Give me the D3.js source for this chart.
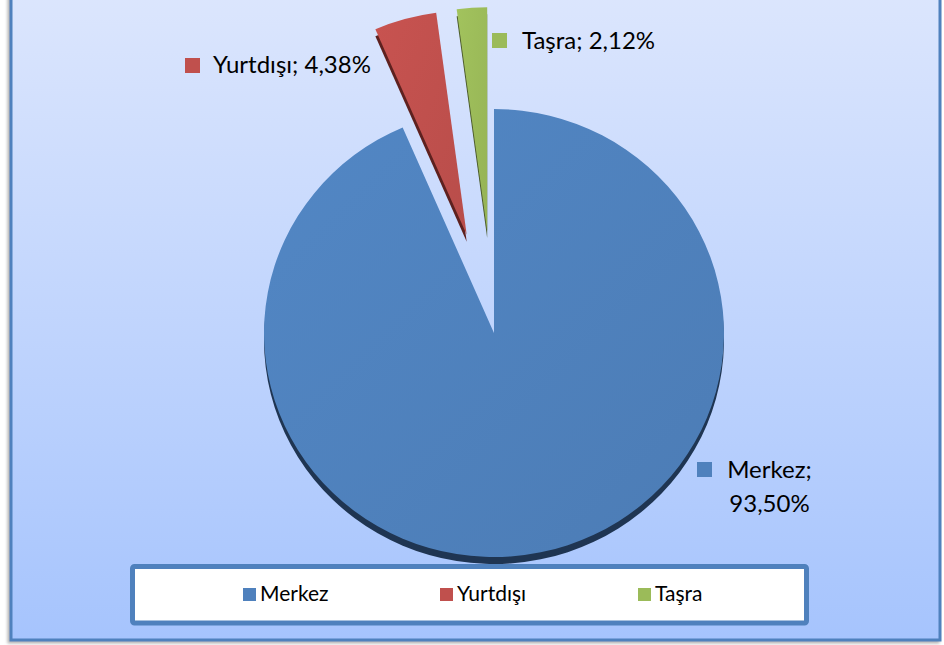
<!DOCTYPE html>
<html>
<head>
<meta charset="utf-8">
<script src="https://cdn.jsdelivr.net/npm/d3@7/dist/d3.min.js"></script>
<style>
html,body{margin:0;padding:0;background:#fff;}
svg{display:block;}
text{font-family:"Lato","Noto Sans",sans-serif;fill:#000;}
</style>
</head>
<body>
<svg id="chart" width="944" height="645"></svg>
<script>
// ---- data ----
const categories = ["Merkez", "Yurtdışı", "Taşra"];
const values = [93.50, 4.38, 2.12];
const exploded = [false, true, true];
const colors = ["#4f81bd", "#c0504d", "#9bbb59"];
const sideColors = ["#1f3552", "#5e211f", "#4a5a2a"];

// ---- layout ----
const W = 944, H = 645;
const cx = 494, cy = 333, rx = 230, ry = 224, depth = 7, explode = 102;

const svg = d3.select("#chart");
const defs = svg.append("defs");

const bg = defs.append("linearGradient").attr("id","bg").attr("x1",0).attr("y1",0).attr("x2",0).attr("y2",1);
bg.append("stop").attr("offset","0%").attr("stop-color","#dce6fd");
bg.append("stop").attr("offset","100%").attr("stop-color","#a6c4fd");

const sh = defs.append("filter").attr("id","shadow").attr("x","-5%").attr("y","-5%").attr("width","110%").attr("height","110%");
sh.append("feDropShadow").attr("dx",-2).attr("dy",2).attr("stdDeviation",1.5).attr("flood-color","#808080").attr("flood-opacity",0.6);

colors.forEach((c,i)=>{
  const g = defs.append("linearGradient").attr("id","g"+i).attr("x1",0).attr("y1",0).attr("x2",1).attr("y2",1);
  g.append("stop").attr("offset","0%").attr("stop-color", d3.color(c).brighter(0.12));
  g.append("stop").attr("offset","100%").attr("stop-color", d3.color(c).darker(0.12));
});

// frame
svg.append("rect").attr("x",11).attr("y",-10).attr("width",929).attr("height",650)
  .attr("fill","url(#bg)").attr("stroke","#4f81bd").attr("stroke-width",3)
  .attr("filter","url(#shadow)");

// pie
const pie = d3.pie().sort(null).value(d=>d.v).startAngle(0).endAngle(2*Math.PI);
const data = categories.map((c,i)=>({c, v:values[i], i}));
const arcs = pie(data);
const arc = d3.arc().innerRadius(0).outerRadius(rx);
const sy = ry/rx;

function offset(a){
  if(!exploded[a.data.i]) return [0,0];
  const m = (a.startAngle + a.endAngle)/2;
  return [explode*Math.sin(m), -explode*Math.cos(m)];
}

const sides = svg.append("g");
const tops = svg.append("g");
arcs.forEach(a=>{
  const [dx,dy] = offset(a);
  sides.append("path").attr("d", arc(a))
    .attr("transform", `translate(${cx+dx},${cy+dy+depth}) scale(1,${sy})`)
    .attr("fill", sideColors[a.data.i]);
});
arcs.forEach(a=>{
  const [dx,dy] = offset(a);
  tops.append("path").attr("d", arc(a))
    .attr("transform", `translate(${cx+dx},${cy+dy}) scale(1,${sy})`)
    .attr("fill", `url(#g${a.data.i})`);
});

// data labels
const fmt = v => d3.format(".2f")(v).replace(".", ",") + "%";
const labelPos = [
  {sx:697, sy:462, lines:true, tx:769.5, ty:478},
  {sx:185, sy:58, tx:213, ty:73},
  {sx:492, sy:33, tx:522, ty:49}
];
labelPos.forEach((p,i)=>{
  svg.append("rect").attr("x",p.sx).attr("y",p.sy).attr("width",15).attr("height",15).attr("fill",colors[i]);
  if(p.lines){
    const t = svg.append("text").attr("x",p.tx).attr("y",p.ty).attr("text-anchor","middle").style("font-size","24px");
    t.append("tspan").attr("x",p.tx).text(categories[i]+";");
    t.append("tspan").attr("x",p.tx).attr("dy",34).text(fmt(values[i]));
  } else {
    svg.append("text").attr("x",p.tx).attr("y",p.ty).style("font-size","24px").text(categories[i]+"; "+fmt(values[i]));
  }
});

// legend
svg.append("rect").attr("x",132.5).attr("y",566.5).attr("width",674).attr("height",56.5)
  .attr("rx",2).attr("fill","#fff").attr("stroke","#4f81bd").attr("stroke-width",5);
const legX = [243, 440, 638];
categories.forEach((c,i)=>{
  svg.append("rect").attr("x",legX[i]).attr("y",588).attr("width",13).attr("height",13).attr("fill",colors[i]);
  svg.append("text").attr("x",legX[i]+17).attr("y",601).style("font-size","21px").text(c);
});
</script>
</body>
</html>
